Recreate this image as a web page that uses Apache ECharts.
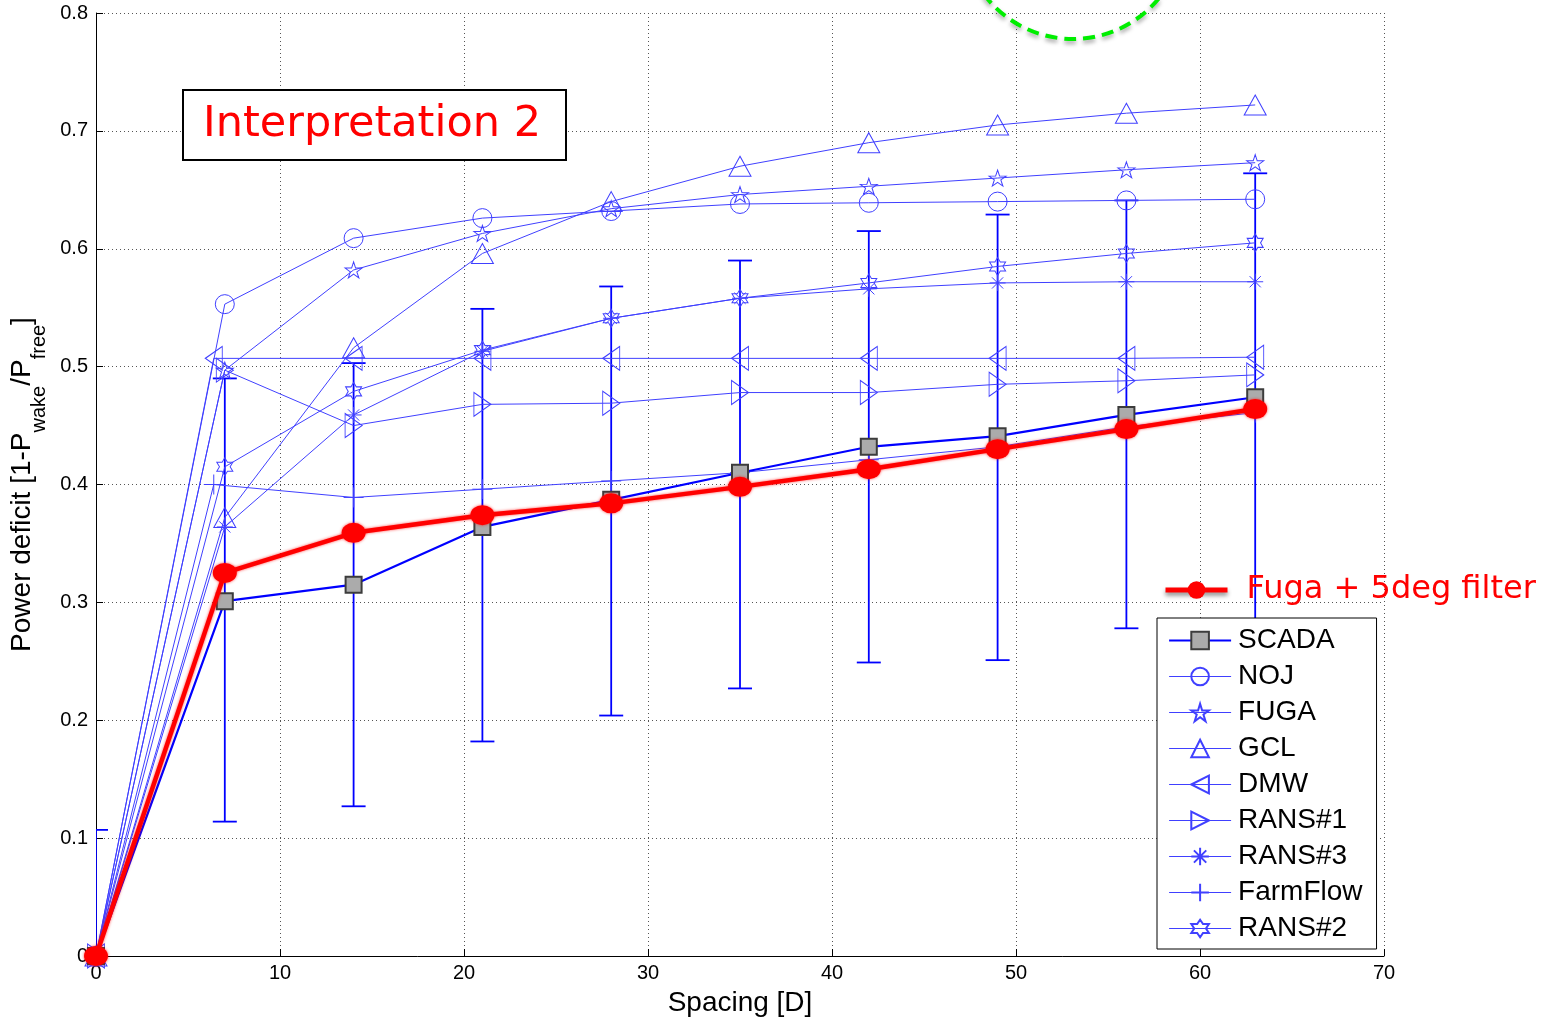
<!DOCTYPE html>
<html>
<head>
<meta charset="utf-8">
<title>Power deficit vs spacing</title>
<script src="https://cdn.jsdelivr.net/npm/echarts@6/dist/echarts.min.js"></script>
<style>
  html, body { margin: 0; padding: 0; background: #fff; }
  #chart { width: 1550px; height: 1024px; }
</style>
</head>
<body>
<div id="chart"></div>
<script>
// spacing [D]
var spacing = [0, 7, 14, 21, 28, 35, 42, 49, 56, 63];
// DMW and FarmFlow lines start slightly before 7D
var spacingEarly = [0, 6.4, 14, 21, 28, 35, 42, 49, 56, 63];

var scada     = [0, 0.301, 0.315, 0.364, 0.387, 0.410, 0.432, 0.441, 0.459, 0.474];
var scadaLow  = [-0.107, 0.114, 0.127, 0.182, 0.204, 0.227, 0.249, 0.251, 0.278, 0.283];
var scadaHigh = [0.107, 0.490, 0.503, 0.549, 0.568, 0.590, 0.615, 0.629, 0.641, 0.664];
var noj       = [0, 0.553, 0.609, 0.626, 0.632, 0.638, 0.639, 0.640, 0.641, 0.642];
var fuga      = [0, 0.497, 0.582, 0.613, 0.634, 0.646, 0.653, 0.660, 0.667, 0.673];
var gcl       = [0, 0.372, 0.516, 0.596, 0.640, 0.670, 0.690, 0.705, 0.715, 0.722];
var dmw       = [0, 0.507, 0.507, 0.507, 0.507, 0.507, 0.507, 0.507, 0.507, 0.508];
var rans1     = [0, 0.497, 0.450, 0.468, 0.469, 0.478, 0.478, 0.485, 0.488, 0.493];
var rans3     = [0, 0.364, 0.459, 0.513, 0.541, 0.558, 0.566, 0.571, 0.572, 0.572];
var farmflow  = [0, 0.400, 0.389, 0.396, 0.403, 0.410, 0.421, 0.432, 0.449, 0.461];
var rans2     = [0, 0.415, 0.479, 0.514, 0.541, 0.558, 0.571, 0.585, 0.596, 0.605];
var fugaFilt  = [0, 0.325, 0.359, 0.374, 0.384, 0.398, 0.413, 0.430, 0.447, 0.464];

var xTicks = [0, 10, 20, 30, 40, 50, 60, 70];
var yTicks = [0, 0.1, 0.2, 0.3, 0.4, 0.5, 0.6, 0.7, 0.8];

var modelBlue = '#4040ff';
var SYM = {
  star5: 'path://M0,-10L2.245,-3.09L9.511,-3.09L3.633,1.18L5.878,8.09L0,3.82L-5.878,8.09L-3.633,1.18L-9.511,-3.09L-2.245,-3.09Z',
  star6: 'path://M0,-10L2.887,-5L8.66,-5L5.774,0L8.66,5L2.887,5L0,10L-2.887,5L-8.66,5L-5.774,0L-8.66,-5L-2.887,-5Z',
  triLeft: 'path://M0,10L14,0L14,20Z',
  triRight: 'path://M14,10L0,0L0,20Z',
  asterisk: 'path://M0,-10L0,10M-10,0L10,0M-7,-7L7,7M-7,7L7,-7',
  plus: 'path://M0,-10L0,10M-10,0L10,0'
};

function pairs(xs, ys) {
  return xs.map(function (x, i) { return [x, ys[i]]; });
}

function model(name, xs, ys, symbol, size) {
  return {
    name: name, type: 'line', data: pairs(xs, ys),
    symbol: symbol, symbolSize: size, showAllSymbol: true,
    lineStyle: { color: modelBlue, width: 1 },
    itemStyle: { color: 'rgba(255,255,255,0)', borderColor: modelBlue, borderWidth: 1 },
    z: 3
  };
}

var chart = echarts.init(document.getElementById('chart'));

chart.setOption({
  animation: false,
  backgroundColor: '#fff',
  grid: { left: 96, right: 166, top: 13, bottom: 68, outerBoundsMode: 'none' },
  xAxis: {
    type: 'value', min: xTicks[0], max: xTicks[xTicks.length - 1], interval: 10,
    name: 'Spacing [D]', nameLocation: 'middle', nameGap: 33,
    nameTextStyle: { fontFamily: 'Liberation Sans', fontSize: 28, color: '#000' },
    axisLine: { lineStyle: { color: '#000', width: 1 } },
    axisTick: { inside: true, length: 7, lineStyle: { color: '#000' } },
    axisLabel: { fontFamily: 'Liberation Sans', fontSize: 20, color: '#000', margin: 7 },
    splitLine: { show: true, lineStyle: { color: '#555', width: 1, type: [1, 3] } }
  },
  yAxis: {
    type: 'value', min: yTicks[0], max: yTicks[yTicks.length - 1], interval: 0.1,
    name: '{m|Power deficit [1-P}{s|wake}{m|/P}{s|free}{m|]}',
    nameLocation: 'middle', nameGap: 46,
    nameTextStyle: {
      color: '#000',
      rich: {
        m: { fontFamily: 'Liberation Sans', fontSize: 28, color: '#000', lineHeight: 54, verticalAlign: 'middle' },
        s: { fontFamily: 'Liberation Sans', fontSize: 20, color: '#000', lineHeight: 54, verticalAlign: 'bottom' }
      }
    },
    axisLine: { show: true, lineStyle: { color: '#000', width: 1 } },
    axisTick: { show: true, inside: true, length: 7, lineStyle: { color: '#000' } },
    axisLabel: { fontFamily: 'Liberation Sans', fontSize: 20, color: '#000', margin: 8 },
    splitLine: { show: true, lineStyle: { color: '#555', width: 1, type: [1, 3] } }
  },
  legend: [{
    data: ['SCADA', 'NOJ', 'FUGA', 'GCL', 'DMW', 'RANS#1', 'RANS#3', 'FarmFlow', 'RANS#2'],
    orient: 'vertical', left: 1157, top: 618,
    backgroundColor: '#fff', borderColor: '#000', borderWidth: 1, borderRadius: 0,
    padding: [8, 14, 6, 11], itemGap: 7, itemWidth: 62, itemHeight: 22,
    lineStyle: { width: 'inherit' },
    textStyle: { fontFamily: 'Liberation Sans', fontSize: 28, color: '#000', lineHeight: 29, padding: [0, 0, 0, 2] },
    selectedMode: false, z: 10
  }, {
    data: ['Fuga + 5deg filter'],
    orient: 'vertical', left: 1163, top: 574, padding: 0,
    itemWidth: 62, itemHeight: 22,
    lineStyle: { width: 5, shadowBlur: 4, shadowColor: 'rgba(0,0,0,0.45)', shadowOffsetY: 3 },
    textStyle: { fontFamily: 'DejaVu Sans', fontSize: 32, color: '#ff0000', padding: [0, 0, 0, 14] },
    selectedMode: false, z: 10
  }],
  series: [
    {
      name: 'SCADA range', type: 'custom', silent: true, clip: true, z: 2,
      data: spacing.map(function (x, i) { return [x, scadaLow[i], scadaHigh[i]]; }),
      encode: { x: 0, y: [1, 2] },
      renderItem: function (params, api) {
        var x = api.value(0);
        var lo = api.coord([x, api.value(1)]);
        var hi = api.coord([x, api.value(2)]);
        var w = 12;
        var st = { stroke: '#0000ff', lineWidth: 1.8 };
        return {
          type: 'group', children: [
            { type: 'line', shape: { x1: lo[0], y1: lo[1], x2: hi[0], y2: hi[1] }, style: st },
            { type: 'line', shape: { x1: lo[0] - w, y1: lo[1], x2: lo[0] + w, y2: lo[1] }, style: st },
            { type: 'line', shape: { x1: hi[0] - w, y1: hi[1], x2: hi[0] + w, y2: hi[1] }, style: st }
          ]
        };
      }
    },
    {
      name: 'SCADA', type: 'line', data: pairs(spacing, scada),
      symbol: 'rect', symbolSize: 16, showAllSymbol: true,
      lineStyle: { color: '#0000ff', width: 2.2 },
      itemStyle: { color: '#ababab', borderColor: '#3c3c3c', borderWidth: 2 },
      z: 4
    },
    model('NOJ', spacing, noj, 'circle', 19),
    model('FUGA', spacing, fuga, SYM.star5, [17, 16]),
    model('GCL', spacing, gcl, 'triangle', [22, 20]),
    model('DMW', spacingEarly, dmw, SYM.triLeft, [17, 24]),
    model('RANS#1', spacing, rans1, SYM.triRight, [17, 24]),
    model('RANS#3', spacing, rans3, SYM.asterisk, 16),
    model('FarmFlow', spacingEarly, farmflow, SYM.plus, 20),
    model('RANS#2', spacing, rans2, SYM.star6, [16, 18]),
    {
      name: 'Fuga + 5deg filter', type: 'line', data: pairs(spacing, fugaFilt),
      symbol: 'circle', symbolSize: [24, 20], showAllSymbol: true,
      lineStyle: { color: '#ff0000', width: 4.5, shadowBlur: 3, shadowColor: 'rgba(255,0,0,0.7)' },
      itemStyle: { color: '#ff0000', shadowBlur: 3, shadowColor: 'rgba(255,0,0,0.7)' },
      z: 6
    }
  ],
  graphic: [
    {
      type: 'rect', left: 182, top: 89, z: 20,
      shape: { width: 383, height: 70 },
      style: { fill: '#fff', stroke: '#000', lineWidth: 2 }
    },
    {
      type: 'text', x: 372, y: 125, z: 21,
      style: {
        text: 'Interpretation 2', fill: '#ff0000',
        font: '43px "DejaVu Sans"', align: 'center', verticalAlign: 'middle'
      }
    },
    {
      type: 'circle', z: 20,
      shape: { cx: 1073, cy: -72, r: 111 },
      style: {
        fill: 'none', stroke: '#00ee00', lineWidth: 4, lineDash: [12, 7],
        shadowBlur: 4, shadowColor: 'rgba(0,0,0,0.35)', shadowOffsetY: 3
      }
    }
  ]
});
</script>
</body>
</html>
